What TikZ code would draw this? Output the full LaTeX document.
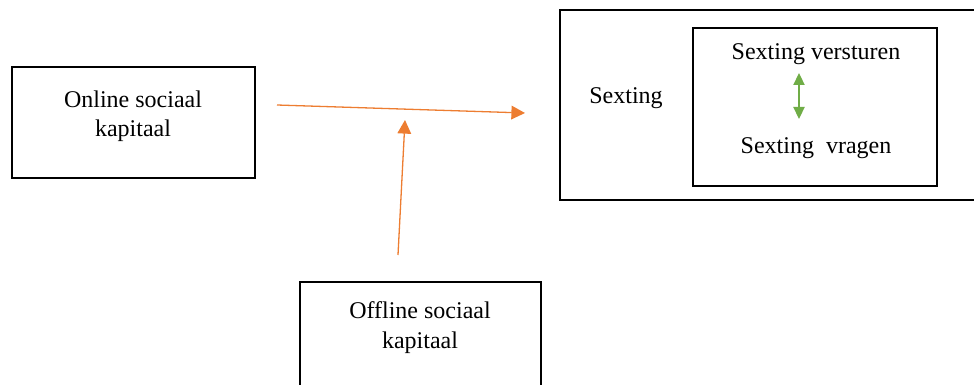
\documentclass[tikz,border=0pt]{standalone}
\usepackage{fontspec}
\setmainfont{Liberation Serif}
\usetikzlibrary{arrows.meta}
\definecolor{orangeA}{HTML}{ED7D31}
\definecolor{greenA}{HTML}{70AD47}
\begin{document}
\begin{tikzpicture}[x=0.5pt,y=-0.5pt,
  boxA/.style={draw=black,line width=1.2pt,inner sep=0pt},
  lbl/.style={anchor=base,inner sep=0pt,font=\fontsize{12}{14}\selectfont},
  orangearrow/.style={draw=orangeA,line width=0.65pt,-{Triangle[length=6.8pt,width=6.8pt]}},
  greenarrow/.style={draw=greenA,line width=0.7pt,{Triangle[length=6pt,width=5.6pt]}-{Triangle[length=6pt,width=5.6pt]}}]
\useasboundingbox (0,0) rectangle (974,385);
\clip (0,0) rectangle (974,385);
% boxes
\draw[boxA] (12,67) rectangle (255,178);
\draw[boxA] (300,282) rectangle (541,400);
\draw[boxA] (560,10) rectangle (990,200);
\draw[boxA] (693,28) rectangle (937,186);
% texts
\node[lbl] (on1) at (133,108) {Online sociaal};
\node[lbl] (on2) at (133,137) {kapitaal};
\node[lbl] (off1) at (420,318) {Offline sociaal};
\node[lbl] (off2) at (420,348) {kapitaal};
\node[lbl] (sx) at (626,104) {Sexting};
\node[lbl] (sv) at (816,60) {Sexting versturen};
\node[lbl] (sq) at (816,154) {Sexting\ \ vragen};
% connectors
\coordinate (a1) at (277,105);
\coordinate (a2) at (525,113);
\coordinate (b1) at (398,255);
\coordinate (b2) at (405,120);
\coordinate (g1) at (799,73);
\coordinate (g2) at (799,119);
\draw[orangearrow] (a1) -- (a2);
\draw[orangearrow] (b1) -- (b2);
\draw[greenarrow] (g1) -- (g2);
\end{tikzpicture}
\end{document}
